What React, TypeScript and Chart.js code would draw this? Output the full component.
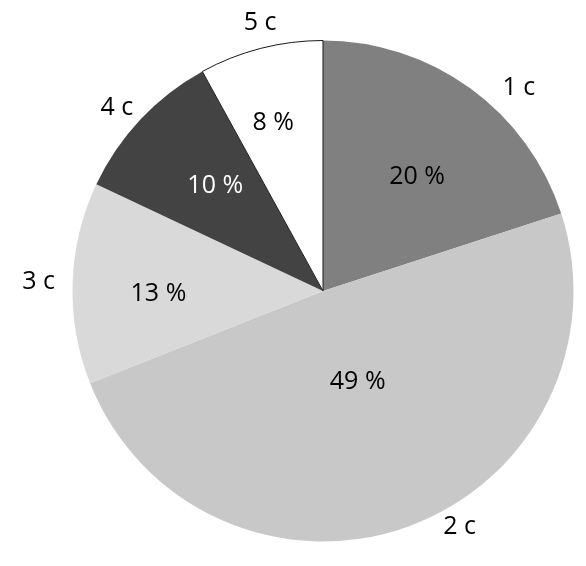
import React, { useEffect, useRef } from "react";
import { Chart, registerables } from "chart.js";

Chart.register(...registerables);

const categories = ["1 c", "2 c", "3 c", "4 c", "5 c"];
const values = [20, 49, 13, 10, 8];
const percentLabels = ["20 %", "49 %", "13 %", "10 %", "8 %"];

const sliceColors = ["#808080", "#c8c8c8", "#d9d9d9", "#434343", "#ffffff"];
const sliceBorders = ["#808080", "#c8c8c8", "#d9d9d9", "#434343", "#1a1a1a"];
const sliceBorderWidths = [0, 0, 0, 0, 1];
const innerTextColors = ["#000000", "#000000", "#000000", "#ffffff", "#000000"];
// label placement styling (radius factor & angle offset in degrees)
const innerRadiusFactor = [0.59, 0.39, 0.657, 0.6, 0.7];
const innerAngleOffset = [3.5, -1, -2.8, 1, -2.1];
const outerRadiusFactor = [1.125, 1.087, 1.136, 1.1, 1.1];
const outerAngleOffset = [8, -10.3, 0, -1.6, 1.2];

const FONT = "'Open Sans', 'Liberation Sans', sans-serif";

const labelPlugin = {
  id: "pieLabels",
  afterDatasetsDraw(chart: any) {
    const ctx = chart.ctx;
    const meta = chart.getDatasetMeta(0);
    ctx.save();
    ctx.font = `25px ${FONT}`;
    ctx.textAlign = "center";
    ctx.textBaseline = "middle";
    meta.data.forEach((arc: any, i: number) => {
      const { x, y, startAngle, endAngle, outerRadius } = arc.getProps(
        ["x", "y", "startAngle", "endAngle", "outerRadius"],
        true
      );
      const mid = (startAngle + endAngle) / 2;
      const a1 = mid + (innerAngleOffset[i] * Math.PI) / 180;
      const r1 = outerRadius * innerRadiusFactor[i];
      ctx.fillStyle = innerTextColors[i];
      ctx.fillText(percentLabels[i], x + Math.cos(a1) * r1, y + Math.sin(a1) * r1);
      const a2 = mid + (outerAngleOffset[i] * Math.PI) / 180;
      const r2 = outerRadius * outerRadiusFactor[i];
      ctx.fillStyle = "#000000";
      ctx.fillText(categories[i], x + Math.cos(a2) * r2, y + Math.sin(a2) * r2);
    });
    ctx.restore();
  },
};

export default function App() {
  const ref = useRef<HTMLCanvasElement>(null);
  useEffect(() => {
    if (!ref.current) return;
    const chart = new Chart(ref.current, {
      type: "pie",
      data: {
        labels: categories,
        datasets: [
          {
            data: values,
            backgroundColor: sliceColors,
            borderColor: sliceBorders,
            borderWidth: sliceBorderWidths,
          },
        ],
      },
      options: {
        responsive: false,
        animation: false,
        layout: { padding: { left: 72, right: 12, top: 40, bottom: 24 } },
        plugins: {
          legend: { display: false },
          tooltip: { enabled: false },
          title: { display: false },
        },
      },
      plugins: [labelPlugin],
    });
    return () => chart.destroy();
  }, []);
  return (
    <div style={{ position: "absolute", left: 0, top: 0, width: 586, height: 566, background: "#fff" }}>
      <canvas ref={ref} width={586} height={566} style={{ width: 586, height: 566 }} />
    </div>
  );
}
